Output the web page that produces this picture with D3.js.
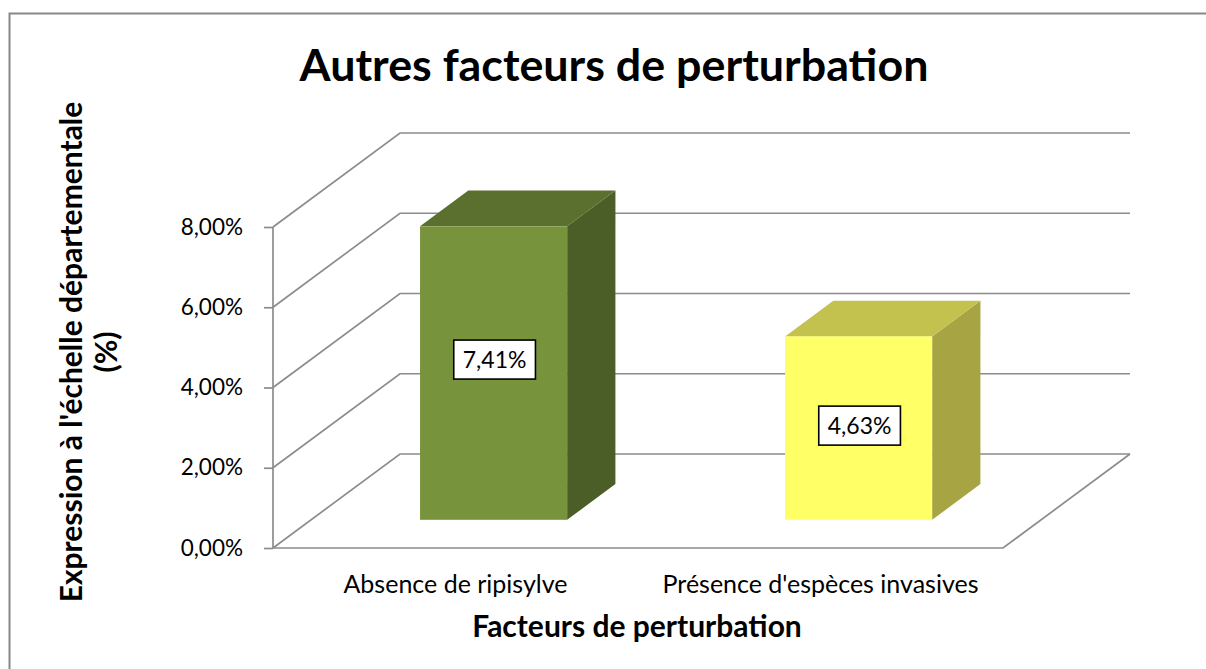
<!DOCTYPE html>
<html>
<head>
<meta charset="utf-8">
<script src="https://cdn.jsdelivr.net/npm/d3@7"></script>
<style>
  body { margin: 0; background: #fff; }
  svg { display: block; font-family: Lato, "Open Sans", sans-serif; }
</style>
</head>
<body>
<div id="chart"></div>
<script>
// chart data
const categories = ["Absence de ripisylve", "Présence d'espèces invasives"];
const values = [7.41, 4.63];
const valueLabels = ["7,41%", "4,63%"];
const yTicks = [0, 2, 4, 6, 8];
const frontColors = ["#77933c", "#ffff66"];
const topColors = ["#5b6f2e", "#c4c24e"];
const sideColors = ["#4b5e27", "#a6a443"];

const W = 1206, H = 669;
const svg = d3.select("#chart").append("svg")
    .attr("width", W).attr("height", H);

// outer border of chart area
svg.append("rect")
    .attr("x", 9.5).attr("y", 13.5)
    .attr("width", W + 10).attr("height", H + 10)
    .attr("fill", "none").attr("stroke", "#888").attr("stroke-width", 2);

// 3D frame: front plane + depth offset
const x0 = 273, x1 = 1003;
const depthX = 127, depthY = -94;
const y = d3.scaleLinear().domain([0, 8]).range([548, 227]);
const x = d3.scaleBand().domain(categories).range([x0, x1]).paddingInner(0).paddingOuter(0);

const grid = svg.append("g")
    .attr("stroke", "#8c8c8c").attr("stroke-width", 1.7).attr("fill", "none");

// side wall diagonals + back wall horizontals
yTicks.forEach(t => {
    const yy = y(t);
    grid.append("polyline")
        .attr("points", [[x0, yy], [x0 + depthX, yy + depthY], [x1 + depthX, yy + depthY]].join(" "));
});
// floor front edge and right diagonal
grid.append("polyline")
    .attr("points", [[x0, y(0)], [x1, y(0)], [x1 + depthX, y(0) + depthY]].join(" "));

// vertical axis with ticks
const yAxis = svg.append("g").attr("transform", `translate(${x0},0)`)
    .call(d3.axisLeft(y).tickValues(yTicks).tickSize(9).tickPadding(21)
        .tickFormat(d => d3.format(".2f")(d).replace(".", ",") + "%"));
yAxis.select(".domain").attr("stroke", "#8c8c8c").attr("stroke-width", 1.7).attr("d", `M0,${y(8)}V${y(0)}`);
yAxis.selectAll(".tick line").attr("stroke", "#8c8c8c").attr("stroke-width", 1.7);
yAxis.selectAll(".tick text").attr("font-size", 22.5).attr("fill", "#000")
    .attr("font-family", "Lato, 'Open Sans', sans-serif");

// bars: placed between 30% and 70% of the depth, slight perspective shrink
const dFront = 0.3, dBack = 0.68;
const shrink = 0.987;
const barW = x.bandwidth() * 0.403;
const bars = svg.append("g");
const labelShift = [-14, -3];
categories.forEach((c, i) => {
    const cx = x(c) + x.bandwidth() / 2 + dFront * depthX;
    const base = y(0) + dFront * depthY;
    const top = base - (y(0) - y(values[i])) * shrink;
    const left = cx - barW / 2, right = cx + barW / 2;
    const ddx = (dBack - dFront) * depthX, ddy = (dBack - dFront) * depthY;
    // right side
    bars.append("polygon")
        .attr("points", [[right, top], [right + ddx, top + ddy], [right + ddx, base + ddy], [right, base]].join(" "))
        .attr("fill", sideColors[i]);
    // top
    bars.append("polygon")
        .attr("points", [[left, top], [left + ddx, top + ddy], [right + ddx, top + ddy], [right, top]].join(" "))
        .attr("fill", topColors[i]);
    // front
    bars.append("rect")
        .attr("x", left).attr("y", top).attr("width", barW).attr("height", base - top)
        .attr("fill", frontColors[i]);

    // value label box
    const ly = (top + base) / 2 + labelShift[i];
    const txt = bars.append("text")
        .attr("x", cx + 1).attr("y", ly).attr("text-anchor", "middle")
        .attr("dominant-baseline", "central")
        .attr("font-size", 23).attr("fill", "#000")
        .text(valueLabels[i]);
    const bb = txt.node().getBBox();
    bars.insert("rect", "text:last-child")
        .attr("x", bb.x - 9).attr("y", ly - 19).attr("width", bb.width + 18).attr("height", 39)
        .attr("fill", "#fff").attr("stroke", "#000").attr("stroke-width", 1.6);
});

// category labels
categories.forEach(c => {
    svg.append("text")
        .attr("x", x(c) + x.bandwidth() / 2).attr("y", 593)
        .attr("text-anchor", "middle").attr("font-size", 25).attr("fill", "#000")
        .text(c);
});

// titles
svg.append("text")
    .attr("x", 614).attr("y", 81).attr("text-anchor", "middle")
    .attr("font-size", 44.8).attr("font-weight", "bold")
    .text("Autres facteurs de perturbation");

svg.append("text")
    .attr("x", 637).attr("y", 637).attr("text-anchor", "middle")
    .attr("font-size", 30).attr("font-weight", "bold")
    .text("Facteurs de perturbation");

const yt = svg.append("text")
    .attr("transform", "translate(0,352) rotate(-90)")
    .attr("text-anchor", "middle").attr("font-size", 30).attr("font-weight", "bold");
yt.append("tspan").attr("x", 0).attr("y", 82).text("Expression à l'échelle départementale");
yt.append("tspan").attr("x", 0).attr("y", 117).text("(%)");
</script>
</body>
</html>
